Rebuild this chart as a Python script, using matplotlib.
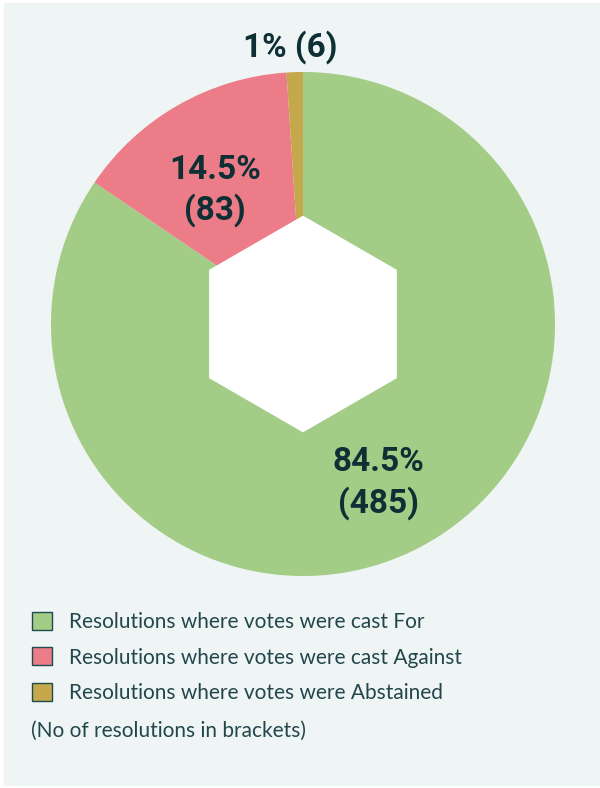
import matplotlib
matplotlib.use("Agg")
import matplotlib.pyplot as plt
from matplotlib.patches import Patch, Rectangle, RegularPolygon

labels = [
    "Resolutions where votes were cast For",
    "Resolutions where votes were cast Against",
    "Resolutions where votes were Abstained",
]
counts = [485, 83, 6]
pct_labels = ["84.5%\n(485)", "14.5%\n(83)", "1% (6)"]
colors = ["#a3cc87", "#ec7c87", "#c4a84b"]
note = "(No of resolutions in brackets)"

BG = "#eff4f4"
DARK = "#0e3034"
LEGEND_TXT = "#22474b"
LABEL_FONT = ["Roboto", "DejaVu Sans"]
BODY_FONT = ["Lato", "DejaVu Sans"]

W, H = 600, 788
fig = plt.figure(figsize=(W / 100, H / 100), dpi=100, facecolor="white")
fig.patches.append(Rectangle((4 / W, 3 / H), 1 - 4 / W, 1 - 6 / H,
                             transform=fig.transFigure, color=BG, zorder=-5))

# pie centred at (303, 324) px from top, radius 252 px
cx, cy, r = 303, 324, 252
ax = fig.add_axes([(cx - r) / W, (H - cy - r) / H, 2 * r / W, 2 * r / H])
ax.set_zorder(2)
wedges, _ = ax.pie(counts, colors=colors, startangle=90, counterclock=False,
                   radius=1, wedgeprops=dict(linewidth=0))
ax.add_patch(RegularPolygon((0, 0), 6, radius=0.43, orientation=0,
                            facecolor="white", edgecolor="none", zorder=5))
ax.set_xlim(-1, 1)
ax.set_ylim(-1, 1)
ax.set_aspect("equal")
ax.axis("off")

# label positions in data units
label_pos = [(0.30, -0.63), (-0.35, 0.53), (-0.05, 1.10)]
for (x, y), txt in zip(label_pos, pct_labels):
    ax.text(x, y, txt, ha="center", va="center", fontsize=24, fontweight="bold",
            color=DARK, family=LABEL_FONT, linespacing=1.3, clip_on=False,
            zorder=10)

handles = [Patch(facecolor=c, edgecolor="#1f4a4e", linewidth=1.0) for c in colors]
fig.legend(handles, labels, loc="upper left",
           bbox_to_anchor=(24 / W, 1 - 604 / H), frameon=False,
           prop=dict(family=BODY_FONT, size=15), labelcolor=LEGEND_TXT,
           handlelength=0.95, handleheight=0.95, handletextpad=0.8,
           labelspacing=0.72, borderaxespad=0)
fig.text(31 / W, 1 - 731 / H, note, ha="left", va="center", fontsize=15,
         color=LEGEND_TXT, family=BODY_FONT)

fig.savefig("out.png", dpi=100, facecolor=fig.get_facecolor())
